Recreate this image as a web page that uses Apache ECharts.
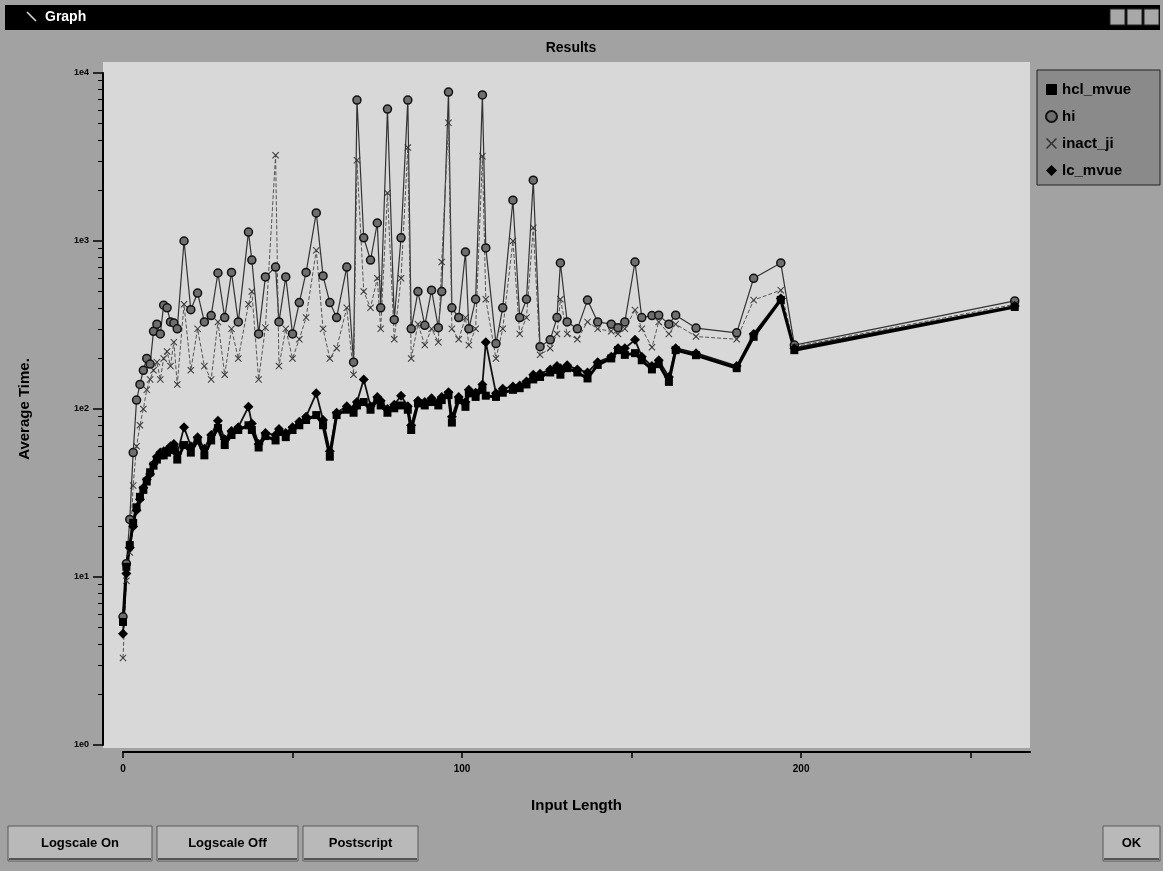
<!DOCTYPE html>
<html>
<head>
<meta charset="utf-8">
<script src="https://cdn.jsdelivr.net/npm/echarts@6/dist/echarts.min.js"></script>
<style>
html,body{margin:0;padding:0;background:#a2a2a2;}
#chart{width:1163px;height:871px;}
</style>
</head>
<body>
<div id="chart"></div>
<script>
// ---- data ----
const inputLength = [0,1,2,3,4,5,6,7,8,9,10,11,12,13,14,15,16,18,20,22,24,26,28,30,32,34,37,38,40,42,45,46,48,50,52,54,57,59,61,63,66,68,69,71,73,75,76,78,80,82,84,85,87,89,91,93,94,96,97,99,101,102,104,106,107,110,112,115,117,119,121,123,126,128,129,131,134,137,140,144,146,148,151,153,156,158,161,163,169,181,186,194,198,263];
const hclMvue = [5.4,11.5,15.5,21,26,30,33,37,42,46,50,53,53,55,57,59,50,61,55,65,53,65,77,61,70,75,80,75,59,69,65,73,68,75,80,86,92,80,52,92,99,95,105,110,99,113,105,95,101,105,99,75,108,105,110,105,113,121,83,113,103,124,118,130,120,118,125,130,133,140,150,155,165,171,160,175,165,152,183,200,224,210,215,195,172,185,145,224,209,175,269,446,224,405];
const hiSeries = [5.8,12,22,55,113,140,170,200,185,290,320,280,415,400,330,325,300,1000,390,490,330,360,645,350,650,330,1130,770,280,611,700,330,611,280,430,650,1470,620,430,350,700,190,6900,1045,770,1280,400,6100,340,1045,6900,300,500,315,510,305,500,7700,400,350,860,300,450,7400,910,245,400,1750,350,450,2300,235,258,350,740,330,300,445,330,320,305,330,750,350,360,362,320,362,303,284,600,740,240,440];
const inactJi = [3.3,9.5,14,35,60,80,100,130,150,170,190,150,200,220,180,250,140,420,170,300,180,150,330,160,300,200,420,500,150,305,3240,180,300,200,260,350,880,300,200,230,400,160,3020,500,400,600,300,1930,260,600,3600,200,320,240,300,250,750,5050,300,260,350,240,300,3200,450,200,300,1000,280,350,1200,210,230,280,450,280,260,330,300,290,280,300,388,300,233,330,280,320,270,260,445,510,235,420];
const lcMvue = [4.6,10.5,15,20,25,29,34,38,41,47,52,55,56,57,60,62,54,78,60,68,58,70,85,66,74,78,103,82,62,72,70,76,72,78,84,90,124,86,56,95,104,100,110,150,104,118,112,100,106,120,104,80,112,110,116,110,118,126,90,118,110,130,125,140,250,124,132,136,138,146,160,162,172,180,175,182,172,165,190,205,230,230,258,205,180,195,155,230,215,180,280,455,230,410];
const xTickValues = [0,50,100,150,200,250];
const xLabelValues = [0,100,200];
const yMajorTicks = [1,10,100,1000,10000];
const yMinorTicks = [2,3,4,5,6,7,8,9,20,30,40,50,60,70,80,90,200,300,400,500,600,700,800,900,2000,3000,4000,5000,6000,7000,8000,9000];

const pairs = arr => inputLength.map((x,i)=>[x,arr[i]]);
const xPath = 'path://M0,1 L1,0 L5,4 L9,0 L10,1 L6,5 L10,9 L9,10 L5,6 L1,10 L0,9 L4,5 Z';
const FONT = 'Liberation Sans, Arial, sans-serif';

function button(x,y,w,h,label){
  return {type:'group', children:[
    {type:'rect', shape:{x:x,y:y,width:w,height:h}, style:{fill:'#b9b9b9', stroke:'#5a5a5a', lineWidth:1}},
    {type:'rect', shape:{x:x+1,y:y+h-3,width:w-2,height:2}, style:{fill:'#555'}},
    {type:'text', x:x+w/2, y:y+h/2, style:{text:label, fill:'#000', font:'bold 13px '+FONT, align:'center', verticalAlign:'middle'}}
  ]};
}

const chart = echarts.init(document.getElementById('chart'), null, {renderer:'canvas'});
const option = {
  animation:false,
  backgroundColor:'#a2a2a2',
  title:{text:'Results', left:566, top:36, textAlign:'center',
    textStyle:{fontFamily:FONT, fontWeight:'bold', fontSize:14, color:'#000'}},
  legend:{
    orient:'vertical', left:1040, top:77, itemWidth:11, itemHeight:11, itemGap:12,
    textStyle:{fontFamily:FONT, fontWeight:'bold', fontSize:15, color:'#000'},
    data:[{name:'hcl_mvue', icon:'rect'},{name:'hi', icon:'circle'},{name:'inact_ji', icon:xPath},{name:'lc_mvue', icon:'diamond'}]
  },
  graphic:[
    {type:'rect', z:-10, shape:{x:5,y:5,width:1155,height:25}, style:{fill:'#000'}},
    {type:'line', z:-9, shape:{x1:27,y1:12,x2:36,y2:21}, style:{stroke:'#ddd', lineWidth:1.5}},
    {type:'text', z:-9, x:45, y:17, style:{text:'Graph', fill:'#fff', font:'bold 14px '+FONT, verticalAlign:'middle'}},
    {type:'rect', z:-9, shape:{x:1110,y:9,width:15,height:16}, style:{fill:'#a8a8a8', stroke:'#222'}},
    {type:'rect', z:-9, shape:{x:1127,y:9,width:15,height:16}, style:{fill:'#a8a8a8', stroke:'#222'}},
    {type:'rect', z:-9, shape:{x:1144,y:9,width:15,height:16}, style:{fill:'#a8a8a8', stroke:'#222'}},
    {type:'rect', z:-10, shape:{x:103,y:62,width:927,height:686}, style:{fill:'#d8d8d8'}},
    {type:'rect', z:-10, shape:{x:1037,y:70,width:123,height:115}, style:{fill:'#8a8a8a', stroke:'#222', lineWidth:1}},
    button(8,826,144,35,'Logscale On'),
    button(157,826,141,35,'Logscale Off'),
    button(303,826,115,35,'Postscript'),
    button(1103,826,57,35,'OK')
  ],
  grid:{left:123, right:133, top:73, bottom:126, containLabel:false},
  xAxis:{
    type:'value', min:0, max:267.5, offset:7, position:'bottom',
    name:'Input Length', nameLocation:'middle', nameGap:46,
    nameTextStyle:{fontFamily:FONT, fontWeight:'bold', fontSize:15, color:'#000'},
    axisLine:{show:true, onZero:false, lineStyle:{color:'#000', width:2}},
    axisTick:{show:true, customValues:xTickValues, length:6, lineStyle:{color:'#000', width:1.5}},
    axisLabel:{customValues:xLabelValues, margin:12, fontFamily:FONT, fontWeight:'bold', fontSize:10, color:'#000'},
    splitLine:{show:false}
  },
  yAxis:[{
    type:'log', logBase:10, min:1, max:10000, offset:20, position:'left',
    name:'Average Time.', nameLocation:'middle', nameGap:71,
    nameTextStyle:{fontFamily:FONT, fontWeight:'bold', fontSize:15, color:'#000'},
    axisLine:{show:true, onZero:false, lineStyle:{color:'#000', width:2}},
    axisTick:{show:true, customValues:yMajorTicks, length:10, lineStyle:{color:'#000', width:1.5}},
    axisLabel:{customValues:yMajorTicks, margin:14, fontFamily:FONT, fontWeight:'bold', fontSize:9, color:'#000',
      formatter:v=>'1e'+Math.round(Math.log10(v))},
    splitLine:{show:false}
  },{
    type:'log', logBase:10, min:1, max:10000, offset:20, position:'left',
    axisLine:{show:false, onZero:false},
    axisTick:{show:true, customValues:yMinorTicks, length:5, lineStyle:{color:'#000', width:1}},
    axisLabel:{show:false},
    splitLine:{show:false}
  }],
  series:[
    {name:'hi', type:'line', data:pairs(hiSeries), clip:false, symbol:'circle', symbolSize:8,
      lineStyle:{color:'#333', width:1.2}, itemStyle:{color:'#6e6e6e', borderColor:'#111', borderWidth:1.5}},
    {name:'inact_ji', type:'line', data:pairs(inactJi), clip:false, symbol:xPath, symbolSize:7,
      lineStyle:{color:'#555', width:1, type:'dashed'}, itemStyle:{color:'#333'}},
    {name:'lc_mvue', type:'line', data:pairs(lcMvue), clip:false, symbol:'diamond', symbolSize:10,
      lineStyle:{color:'#111', width:1.8}, itemStyle:{color:'#000'}},
    {name:'hcl_mvue', type:'line', data:pairs(hclMvue), clip:false, symbol:'rect', symbolSize:8,
      lineStyle:{color:'#000', width:3}, itemStyle:{color:'#000'}}
  ]
};
chart.setOption(option);
</script>
</body>
</html>
